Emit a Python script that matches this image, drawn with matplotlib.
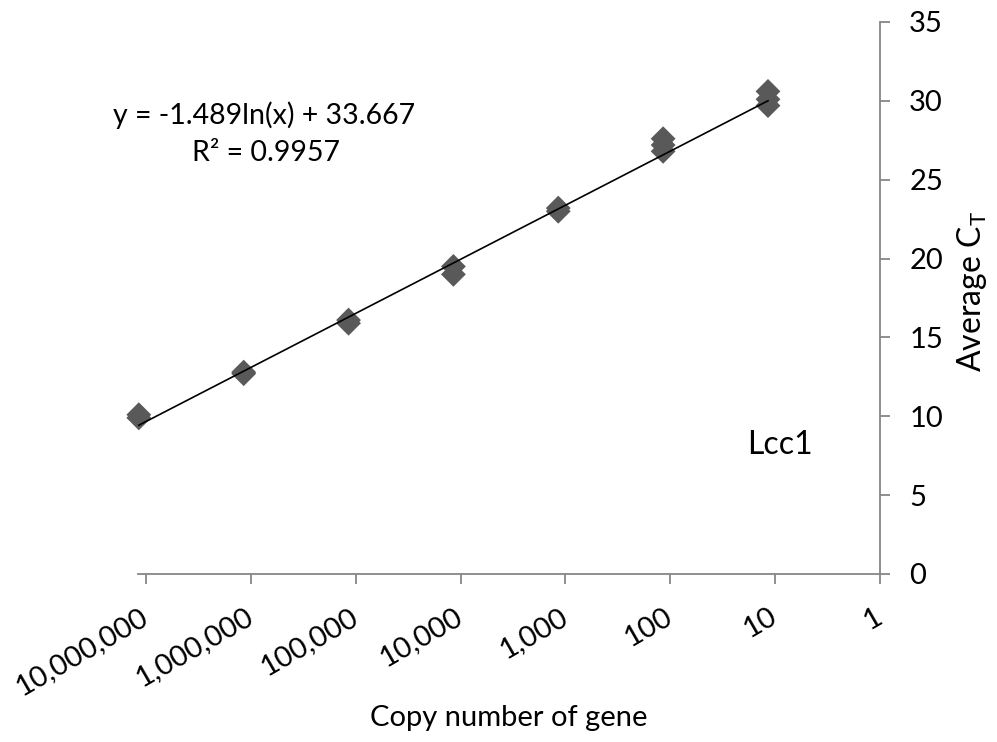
import numpy as np
import matplotlib
matplotlib.use("Agg")
import matplotlib.pyplot as plt

plt.rcParams['font.family'] = ['Lato', 'DejaVu Sans']

# Data: copy number (x) and CT replicates (y)
copy_numbers = [1.17e7, 1.17e7, 1.17e6, 1.17e6, 1.17e5, 1.17e5, 1.17e4, 1.17e4,
                1.17e3, 1.17e3, 1.17e2, 1.17e2, 1.17e2, 11.7, 11.7, 11.7]
ct_values = [9.9, 10.1, 12.7, 12.8, 15.9, 16.1, 19.0, 19.5,
             23.0, 23.2, 26.8, 27.2, 27.6, 29.7, 30.1, 30.6]
slope = -1.489
intercept = 33.667
eq_text = "y = -1.489ln(x) + 33.667"
r2_text = "R² = 0.9957"
tick_values = [1e7, 1e6, 1e5, 1e4, 1e3, 1e2, 10, 1]
tick_labels = ["10,000,000", "1,000,000", "100,000", "10,000", "1,000", "100", "10", "1"]
y_ticks = [0, 5, 10, 15, 20, 25, 30, 35]

fig = plt.figure(figsize=(9.97, 7.42), dpi=100)
ax = fig.add_axes([138/997, 1-574/742, (880-138)/997, (574-22)/742])

axis_color = '#868686'
ax.scatter(copy_numbers, ct_values, marker='D', s=160, color='#595959',
           edgecolors='none', zorder=3, clip_on=False)

xs = np.logspace(np.log10(max(copy_numbers)), np.log10(min(copy_numbers)), 100)
ax.plot(xs, slope*np.log(xs) + intercept, color='black', lw=1.2, zorder=4, clip_on=False)

ax.set_xscale('log')
ax.set_xlim(10**7.076, 1)
ax.set_ylim(0, 35)
ax.set_xticks(tick_values)
ax.set_xticklabels(tick_labels)
ax.minorticks_off()
ax.set_yticks(y_ticks)
ax.yaxis.tick_right()

for s in ['top', 'left']:
    ax.spines[s].set_visible(False)
for s in ['bottom', 'right']:
    ax.spines[s].set_color(axis_color)
    ax.spines[s].set_linewidth(1.3)

ax.tick_params(axis='x', direction='out', length=7, width=1.3, color=axis_color,
               labelsize=21, pad=22)
ax.tick_params(axis='y', direction='out', length=7, width=1.3, color=axis_color,
               labelsize=21, pad=14, left=False, right=True)
for lab in ax.get_xticklabels():
    lab.set_rotation(30)
    lab.set_ha('right')
    lab.set_va('center')
    lab.set_rotation_mode('anchor')

fig.text(972/997, 1-292/742, "Average C$_\\mathregular{T}$", fontsize=23,
         rotation=90, ha='center', va='center')
fig.text(509/997, 1-718/742, "Copy number of gene", fontsize=21, ha='center', va='center')

fig.text(264/997, 1-115/742, eq_text, fontsize=20.5, ha='center', va='center')
fig.text(266/997, 1-153/742, r2_text, fontsize=20.5, ha='center', va='center')
fig.text(780/997, 1-445/742, "Lcc1", fontsize=23, ha='center', va='center')

fig.savefig("out.png", dpi=100)
